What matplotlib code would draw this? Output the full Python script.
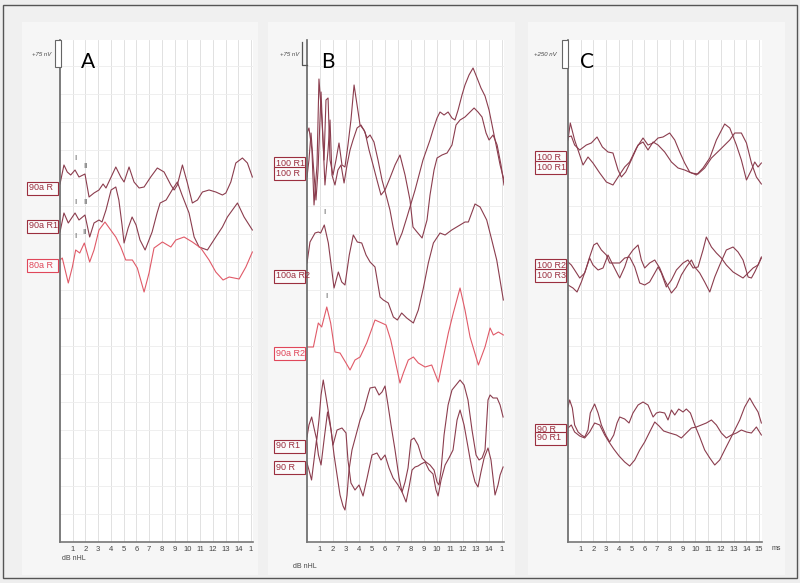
import matplotlib.pyplot as plt
from matplotlib.patches import Rectangle
from matplotlib.lines import Line2D

plt.rcParams['font.family'] = ['Liberation Sans', 'DejaVu Sans']

W, H = 800, 583
DARK = '#8b3d4e'
PINK = '#e05a68'
TAG_DARK = '#9b2f3f'
TAG_PINK = '#e0475a'

# ---------------- panel A (time in ms, amplitude in display units) ----------------
a_90r_ms = [0, 0.31, 0.57, 0.84, 1.18, 1.49, 1.96, 2.28, 2.67, 3.06, 3.38, 3.61, 4.38, 4.77, 5.03, 5.42,
            5.81, 6.21, 6.60, 7.12, 7.64, 8.17, 8.70, 8.96, 9.21, 9.61, 10.0, 10.39, 10.79, 11.18, 11.70,
            12.23, 12.75, 13.02, 13.41, 13.80, 14.32, 14.71, 15.1]
a_90r_amp = [358, 377, 370, 367, 372, 365, 368, 345, 349, 352, 358, 354, 375, 365, 360, 375,
             360, 354, 355, 365, 374, 370, 357, 352, 357, 377, 359, 339, 342, 350, 352,
             350, 347, 349, 360, 379, 384, 379, 365]

a_90r1_ms = [0, 0.31, 0.65, 1.18, 1.49, 1.96, 2.33, 2.67, 3.06, 3.30, 3.61, 4.01, 4.38, 4.62, 4.87, 5.03,
             5.35, 5.66, 5.97, 6.28, 6.68, 7.23, 7.62, 7.86, 8.33, 8.80, 9.21, 9.58, 10.13, 10.53, 10.92,
             11.57, 12.23, 12.75, 13.14, 13.93, 14.45, 15.1]
a_90r1_amp = [310, 329, 319, 329, 322, 327, 305, 319, 322, 320, 332, 352, 355, 342, 317, 299,
              314, 325, 317, 302, 292, 310, 329, 339, 342, 352, 360, 347, 329, 305, 295,
              292, 305, 315, 325, 339, 325, 312]

a_80r_ms = [0, 0.18, 0.65, 0.97, 1.23, 1.55, 1.91, 2.33, 2.67, 3.06, 3.53, 3.98, 4.38, 4.77, 5.16, 5.68,
            6.07, 6.60, 6.99, 7.38, 8.04, 8.70, 9.09, 9.74, 10.39, 11.05, 11.70, 12.23, 12.80, 13.28,
            14.06, 14.59, 15.1]
a_80r_amp = [282, 284, 259, 275, 292, 289, 299, 280, 292, 312, 320, 312, 305, 295, 282, 282,
             274, 250, 269, 294, 300, 295, 302, 305, 300, 294, 282, 270, 262, 265,
             263, 275, 290]

# ---------------- panel B ----------------
b_100r1_ms = [0, 0.15, 0.38, 0.54, 0.77, 0.92, 1.15, 1.31, 1.46, 1.62, 1.77, 2.00, 2.23, 2.46, 2.69, 2.92,
              3.15, 3.38, 3.62, 3.85, 4.08, 4.38, 4.62, 4.85, 5.15, 5.46, 5.77, 6.08, 6.38, 6.62, 6.92,
              7.31, 7.69, 8.31, 8.92, 9.46, 9.69, 10.0, 10.23, 10.54, 10.85, 11.15, 11.38, 11.62, 11.92,
              12.15, 12.46, 12.77, 13.08, 13.38, 13.69, 14.0, 14.31, 14.62, 14.85, 15.15]
b_100r1_amp = [409, 414, 392, 337, 377, 463, 422, 382, 442, 444, 382, 367, 382, 399, 377, 375,
               397, 422, 457, 437, 417, 412, 404, 407, 400, 382, 362, 347, 332, 315, 297,
               309, 325, 352, 382, 402, 412, 424, 430, 427, 430, 424, 422, 432, 447,
               457, 467, 474, 464, 454, 446, 432, 412, 392, 377, 362]

b_100r_ms = [0, 0.15, 0.31, 0.46, 0.69, 0.85, 1.08, 1.23, 1.38, 1.62, 1.77, 1.92, 2.15, 2.38, 2.62, 2.85,
             3.08, 3.31, 3.54, 3.85, 4.15, 4.46, 4.77, 5.08, 5.38, 5.69, 6.0, 6.38, 6.77, 7.15, 7.54,
             7.92, 8.15, 8.46, 8.85, 9.23, 9.46, 9.77, 10.0, 10.38, 10.77, 11.15, 11.46, 11.77, 12.15,
             12.54, 12.85, 13.15, 13.46, 13.77, 14.0, 14.31, 14.62, 14.92, 15.15]
b_100r_amp = [365, 382, 409, 382, 342, 372, 450, 402, 357, 392, 422, 367, 357, 372, 377, 359,
              377, 392, 402, 414, 417, 410, 392, 377, 362, 347, 352, 364, 377, 387, 367,
              342, 315, 310, 304, 322, 347, 372, 384, 387, 389, 397, 417, 422, 425,
              430, 434, 430, 425, 409, 402, 407, 397, 377, 357]

b_100ar2_ms = [0, 0.23, 0.62, 0.87, 1.05, 1.33, 1.64, 2.08, 2.41, 2.67, 2.92, 3.25, 3.56, 3.87, 4.21, 4.54,
               4.85, 5.23, 5.62, 5.87, 6.25, 6.64, 6.95, 7.28, 7.67, 8.18, 8.56, 8.95, 9.33, 9.72, 10.23,
               10.62, 11.13, 11.77, 12.15, 12.41, 12.92, 13.31, 13.82, 14.21, 14.59, 15.1]
b_100ar2_amp = [279, 300, 309, 310, 309, 317, 299, 254, 270, 260, 257, 287, 307, 300, 299, 287,
                280, 275, 245, 242, 239, 225, 222, 229, 224, 219, 232, 254, 279, 299, 309,
                307, 312, 317, 320, 320, 338, 335, 322, 302, 282, 242]

b_90ar2_ms = [0, 0.49, 0.87, 1.13, 1.52, 1.82, 2.15, 2.54, 3.0, 3.31, 3.69, 4.08, 4.59, 5.23, 5.75, 6.08,
              6.44, 6.77, 7.15, 7.41, 7.79, 8.18, 8.56, 9.08, 9.59, 10.1, 10.49, 10.87, 11.25, 11.77,
              12.15, 12.54, 13.18, 13.69, 14.08, 14.33, 14.72, 15.1]
b_90ar2_amp = [195, 195, 219, 215, 235, 219, 190, 189, 179, 172, 182, 185, 199, 222, 219, 217,
               202, 182, 159, 169, 182, 185, 179, 175, 177, 160, 185, 209, 229, 254,
               232, 205, 177, 195, 214, 207, 210, 207]

b_90r1_ms = [0, 0.15, 0.36, 0.54, 0.75, 0.92, 1.08, 1.25, 1.50, 1.77, 2.0, 2.31, 2.69, 3.0, 3.15, 3.38,
             3.69, 4.0, 4.31, 4.62, 5.0, 5.38, 5.69, 6.0, 6.31, 6.62, 7.0, 7.31, 7.62, 7.85, 8.08,
             8.31, 8.54, 8.77, 9.08, 9.38, 9.69, 9.92, 10.08, 10.31, 10.62, 10.92, 11.23, 11.54, 11.77,
             12.08, 12.38, 12.69, 12.92, 13.15, 13.38, 13.62, 13.92, 14.15, 14.31, 14.46, 14.69, 14.85, 15.08]
b_90r1_amp = [105, 117, 125, 114, 102, 122, 147, 162, 142, 120, 97, 112, 114, 109, 82, 59,
              52, 57, 46, 64, 87, 89, 82, 87, 74, 64, 57, 50, 40, 55, 72,
              75, 76, 78, 80, 72, 68, 52, 46, 62, 77, 84, 92, 122, 132,
              117, 95, 72, 60, 55, 70, 84, 94, 82, 64, 47, 57, 67, 75]

b_90r_ms = [0, 0.15, 0.35, 0.54, 0.73, 0.88, 1.08, 1.31, 1.58, 1.85, 2.08, 2.31, 2.54, 2.77, 2.92, 3.08,
            3.23, 3.46, 3.77, 4.08, 4.38, 4.69, 4.85, 5.23, 5.54, 5.77, 6.0, 6.23, 6.46, 6.77, 7.08,
            7.31, 7.54, 7.77, 8.0, 8.23, 8.54, 8.85, 9.15, 9.46, 9.77, 10.0, 10.15, 10.31, 10.54,
            10.85, 11.15, 11.46, 11.77, 12.08, 12.38, 12.69, 13.0, 13.23, 13.46, 13.69, 13.92, 14.08,
            14.31, 14.62, 14.85, 15.08]
b_90r_amp = [79, 72, 62, 82, 102, 87, 77, 102, 130, 112, 87, 67, 47, 36, 32, 47,
             72, 92, 107, 122, 132, 147, 154, 155, 147, 150, 156, 137, 117, 92, 64,
             50, 60, 74, 102, 104, 97, 84, 80, 77, 72, 60, 57, 72, 107,
             137, 152, 157, 162, 157, 142, 112, 87, 82, 84, 92, 142, 147,
             144, 144, 137, 125]

# ---------------- panel C ----------------
c_100r_ms = [0, 0.18, 0.52, 0.92, 1.18, 1.57, 1.96, 2.49, 3.01, 3.53, 3.93, 4.45, 4.84, 5.37, 5.89, 6.28,
             6.68, 7.07, 7.46, 7.98, 8.38, 8.77, 9.16, 9.55, 10.08, 10.60, 11.13, 11.65, 12.30, 12.70,
             13.22, 13.61, 14.01, 14.40, 14.66, 14.92, 15.18]
c_100r_amp = [402, 419, 402, 387, 377, 385, 379, 369, 360, 357, 365, 375, 380, 394, 404, 397,
              399, 404, 405, 409, 402, 390, 379, 370, 367, 374, 384, 402, 418, 414,
              397, 382, 362, 372, 380, 375, 379]

c_100r1_ms = [0, 0.26, 0.52, 0.92, 1.44, 1.83, 2.28, 2.70, 3.14, 3.53, 3.93, 4.19, 4.53, 4.97, 5.50, 5.89,
              6.28, 6.68, 7.07, 7.59, 8.12, 8.64, 9.16, 9.69, 10.21, 10.73, 11.26, 11.91, 12.70, 13.09,
              13.61, 14.01, 14.40, 14.79, 15.18]
c_100r1_amp = [405, 406, 397, 392, 397, 399, 405, 395, 390, 389, 372, 365, 370, 382, 397, 400,
               392, 400, 397, 390, 380, 374, 372, 369, 368, 374, 384, 392, 402, 409,
               409, 399, 379, 365, 358]

c_100r2_ms = [0, 0.26, 0.52, 0.92, 1.31, 1.70, 2.02, 2.28, 2.62, 3.01, 3.27, 3.66, 4.06, 4.45, 4.84, 5.24,
              5.63, 6.02, 6.41, 6.81, 7.07, 7.33, 7.72, 8.12, 8.51, 9.03, 9.42, 9.82, 10.21, 10.60,
              10.86, 11.26, 11.65, 12.04, 12.43, 12.96, 13.35, 13.74, 14.14, 14.53, 14.92, 15.18]
c_100r2_amp = [280, 277, 272, 264, 269, 285, 297, 299, 292, 287, 279, 279, 279, 284, 285, 275,
               259, 257, 260, 269, 275, 269, 255, 262, 272, 279, 282, 274, 275, 292,
               305, 295, 289, 284, 277, 270, 267, 264, 269, 274, 277, 284]

c_100r3_ms = [0, 0.39, 0.71, 1.05, 1.44, 1.70, 1.96, 2.36, 2.75, 3.14, 3.53, 3.93, 4.06, 4.45, 4.71, 5.10,
              5.50, 5.76, 6.02, 6.41, 6.81, 7.20, 7.59, 8.12, 8.51, 8.90, 9.29, 9.69, 9.95, 10.34,
              10.73, 11.13, 11.52, 11.91, 12.43, 12.96, 13.35, 13.74, 14.14, 14.40, 14.66, 14.92, 15.18]
c_100r3_amp = [257, 254, 250, 260, 274, 284, 277, 272, 274, 287, 277, 267, 264, 275, 285, 292,
               297, 282, 274, 279, 282, 274, 262, 249, 255, 267, 275, 282, 275, 269,
               260, 250, 265, 277, 292, 295, 290, 282, 265, 264, 270, 277, 285]

c_90r_ms = [0, 0.13, 0.34, 0.52, 0.79, 1.05, 1.31, 1.57, 1.75, 2.09, 2.36, 2.62, 2.96, 3.27, 3.59, 3.85,
            4.06, 4.45, 4.79, 5.10, 5.50, 5.89, 6.28, 6.68, 6.94, 7.20, 7.59, 7.85, 8.12, 8.38, 8.69,
            9.03, 9.29, 9.61, 9.95, 10.34, 10.73, 11.13, 11.52, 11.91, 12.30, 12.70, 13.09, 13.48,
            13.87, 14.27, 14.58, 14.92, 15.18]
c_90r_amp = [135, 142, 134, 117, 110, 107, 105, 112, 129, 138, 129, 117, 107, 100, 107, 119,
             125, 123, 119, 129, 137, 140, 137, 125, 129, 130, 129, 122, 132, 127, 133,
             130, 133, 129, 117, 105, 92, 84, 77, 82, 92, 102, 112, 122,
             135, 144, 137, 130, 119]

c_90r1_ms = [0, 0.26, 0.52, 0.92, 1.31, 1.70, 2.09, 2.49, 2.88, 3.22, 3.59, 4.01, 4.45, 4.84, 5.24, 5.63,
             6.02, 6.41, 6.81, 7.15, 7.51, 7.98, 8.51, 8.90, 9.29, 9.69, 10.08, 10.47, 10.86, 11.26,
             11.65, 12.04, 12.43, 12.83, 13.22, 13.61, 14.01, 14.40, 14.79, 15.18]
c_90r1_amp = [114, 117, 110, 106, 104, 110, 119, 117, 107, 100, 93, 86, 80, 76, 82, 92,
              100, 110, 120, 116, 111, 109, 107, 104, 109, 114, 115, 117, 119, 122,
              117, 109, 104, 107, 109, 112, 110, 109, 115, 107]

# trace tags: (text, baseline amplitude, colour)
a_tags = [('90a R', 354, TAG_DARK), ('90a R1', 316, TAG_DARK), ('80a R', 277, TAG_PINK)]
b_tags = [('100 R1', 379, TAG_DARK), ('100 R', 369, TAG_DARK), ('100a R2', 266, TAG_DARK),
          ('90a R2', 189, TAG_PINK), ('90 R1', 96, TAG_DARK), ('90 R', 75, TAG_DARK)]
c_tags = [('100 R', 385, TAG_DARK), ('100 R1', 375, TAG_DARK), ('100 R2', 277, TAG_DARK),
          ('100 R3', 267, TAG_DARK), ('90 R', 112, TAG_DARK), ('90 R1', 104, TAG_DARK)]

# wave peak markers: (text, ms, amplitude)
a_marks = [('I', 1.18, 384), ('II', 1.96, 375), ('I', 1.18, 339), ('II', 2.0, 339),
           ('I', 1.23, 305), ('II', 1.91, 309)]
b_marks = [('I', 1.33, 329), ('I', 1.52, 245)]

ticks = list(range(1, 16))
ticklabels_cut = [str(t) for t in ticks[:-1]] + ['1']
ticklabels_full = [str(t) for t in ticks]


def px(x, y):
    return x / W, 1 - y / H


fig = plt.figure(figsize=(8, 5.83), dpi=100, facecolor='#eeeeee')

# outer frame and panel backgrounds
fig.add_artist(Rectangle(px(3, 578), 794 / W, 573 / H, transform=fig.transFigure,
                         fc='#f0f0f0', ec='#555555', lw=1.0, zorder=0))
for x0, x1 in [(22, 258), (268, 515), (528, 785)]:
    fig.add_artist(Rectangle(px(x0, 575), (x1 - x0) / W, 553 / H, transform=fig.transFigure,
                             fc='#f6f6f6', ec='none', zorder=0))


def panel(left_px, width_px, xmax, labels):
    ax = fig.add_axes([left_px / W, (H - 542) / H, width_px / W, 502 / H])
    ax.set_facecolor('white')
    ax.set_xlim(0, xmax)
    ax.set_ylim(0, 502)
    ax.set_xticks(ticks)
    ax.set_xticklabels(labels, fontsize=5.5, color='#444444')
    ax.tick_params(axis='x', length=0, pad=3)
    ax.set_yticks([])
    for t in ticks:
        ax.axvline(t, color='#dcdcdc', lw=0.6, zorder=0)
    for y in range(28, 502, 28):
        ax.axhline(y, color='#ededed', lw=0.6, zorder=0)
    for s in ['top', 'right']:
        ax.spines[s].set_visible(False)
    ax.spines['left'].set_color('#666666')
    ax.spines['bottom'].set_color('#777777')
    ax.spines['left'].set_linewidth(1.2)
    ax.spines['bottom'].set_linewidth(1.2)
    return ax


def tag(ax, width_px, text, y, color):
    tr = ax.get_yaxis_transform()
    x0 = -33 / width_px
    ax.add_patch(Rectangle((x0, y - 6.5), 31 / width_px, 13, transform=tr, fc='#fbfbfb',
                           ec=color, lw=0.8, clip_on=False, zorder=5))
    ax.text(x0 + 2 / width_px, y, text, transform=tr, fontsize=6.5, color=color,
            ha='left', va='center', clip_on=False, zorder=6)


LW = 0.8

ax_a = panel(60, 193, 15.15, ticklabels_cut)
ax_a.plot(a_90r_ms, a_90r_amp, color=DARK, lw=LW)
ax_a.plot(a_90r1_ms, a_90r1_amp, color=DARK, lw=LW)
ax_a.plot(a_80r_ms, a_80r_amp, color=PINK, lw=LW)
for text, y, color in a_tags:
    tag(ax_a, 193, text, y, color)
for text, x, y in a_marks:
    ax_a.text(x, y, text, fontsize=5.5, color='#444444', ha='center', va='center')

ax_b = panel(307, 197, 15.15, ticklabels_cut)
ax_b.plot(b_100r1_ms, b_100r1_amp, color=DARK, lw=LW)
ax_b.plot(b_100r_ms, b_100r_amp, color=DARK, lw=LW)
ax_b.plot(b_100ar2_ms, b_100ar2_amp, color=DARK, lw=LW)
ax_b.plot(b_90ar2_ms, b_90ar2_amp, color=PINK, lw=LW)
ax_b.plot(b_90r1_ms, b_90r1_amp, color=DARK, lw=LW)
ax_b.plot(b_90r_ms, b_90r_amp, color=DARK, lw=LW)
for text, y, color in b_tags:
    tag(ax_b, 197, text, y, color)
for text, x, y in b_marks:
    ax_b.text(x, y, text, fontsize=5.5, color='#444444', ha='center', va='center')

ax_c = panel(568, 194, 15.23, ticklabels_full)
ax_c.plot(c_100r_ms, c_100r_amp, color=DARK, lw=LW)
ax_c.plot(c_100r1_ms, c_100r1_amp, color=DARK, lw=LW)
ax_c.plot(c_100r2_ms, c_100r2_amp, color=DARK, lw=LW)
ax_c.plot(c_100r3_ms, c_100r3_amp, color=DARK, lw=LW)
ax_c.plot(c_90r_ms, c_90r_amp, color=DARK, lw=LW)
ax_c.plot(c_90r1_ms, c_90r1_amp, color=DARK, lw=LW)
for text, y, color in c_tags:
    tag(ax_c, 194, text, y, color)

# amplitude scale markers
fig.add_artist(Rectangle(px(55, 67), 5.5 / W, 27 / H, transform=fig.transFigure,
                         fc='white', ec='#666666', lw=0.8))
fig.add_artist(Line2D([301.5 / W, 301.5 / W, 306.5 / W], [1 - 41.7 / H, 1 - 65 / H, 1 - 65 / H],
                      transform=fig.transFigure, color='#555555', lw=0.9))
fig.add_artist(Rectangle(px(562, 68), 6 / W, 28 / H, transform=fig.transFigure,
                         fc='white', ec='#666666', lw=0.8))
fig.text(*px(42, 55), '+75 nV', fontsize=4.3, style='italic', color='#444444', ha='center', va='center')
fig.text(*px(290, 55), '+75 nV', fontsize=4.3, style='italic', color='#444444', ha='center', va='center')
fig.text(*px(545, 55), '+250 nV', fontsize=4.3, style='italic', color='#444444', ha='center', va='center')

# panel letters
for letter, x in [('A', 88), ('B', 328), ('C', 587)]:
    fig.text(*px(x, 62), letter, fontsize=15, family=['Lato', 'DejaVu Sans'],
             color='black', ha='center', va='center')

fig.text(*px(74, 559), 'dB nHL', fontsize=5, color='#444444', ha='center', va='center')
fig.text(*px(305, 566), 'dB nHL', fontsize=5, color='#444444', ha='center', va='center')
fig.text(*px(776, 548), 'ms', fontsize=5, color='#444444', ha='center', va='center')

fig.savefig('out.png', dpi=100, facecolor=fig.get_facecolor())
